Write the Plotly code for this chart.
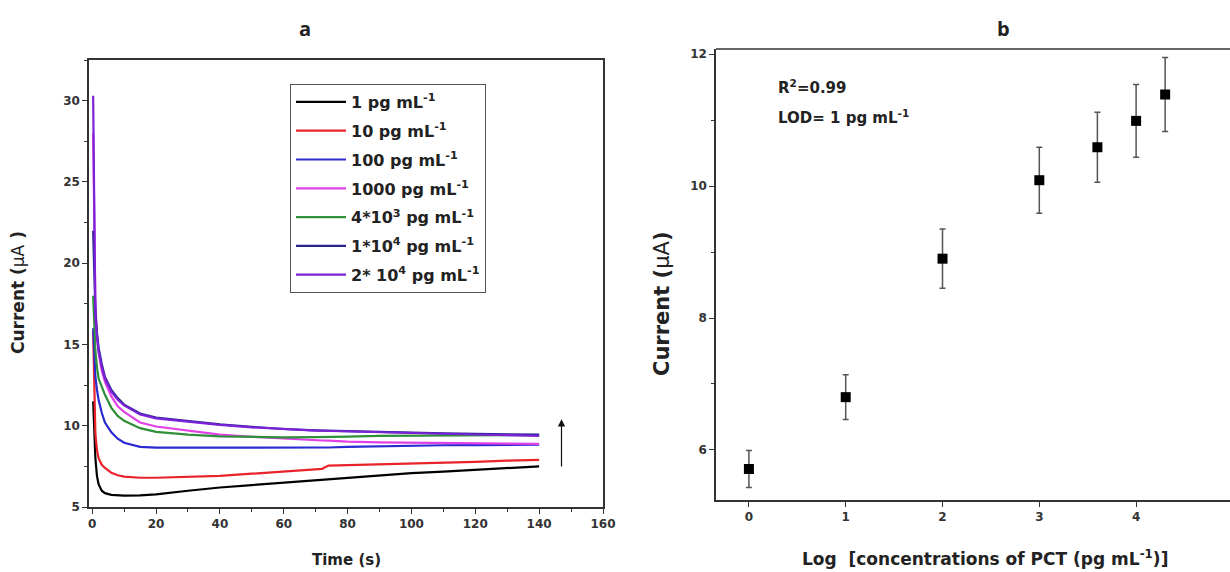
import plotly.graph_objects as go

# ---------- Panel a data ----------
time_s = [0.3, 0.6, 1, 1.5, 2, 3, 4, 6, 8, 10, 15, 20, 30, 40, 50, 60, 70, 72, 74,
          80, 90, 100, 110, 120, 130, 140]
i_1pg = [11.5, 9.5, 8.0, 6.9, 6.4, 6.0, 5.85, 5.75, 5.72, 5.7, 5.72, 5.78, 6.0, 6.2, 6.35,
         6.5, 6.65, 6.68, 6.7, 6.8, 6.97, 7.08, 7.18, 7.3, 7.4, 7.5]
i_10pg = [15.8, 12.0, 9.5, 8.5, 8.0, 7.6, 7.4, 7.1, 6.95, 6.87, 6.8, 6.8, 6.85, 6.92, 7.05,
          7.2, 7.32, 7.35, 7.55, 7.58, 7.6, 7.65, 7.72, 7.78, 7.85, 7.9]
i_100pg = [16.0, 14.5, 13.0, 12.2, 11.6, 10.8, 10.2, 9.6, 9.2, 8.95, 8.7, 8.65, 8.65, 8.63,
           8.62, 8.62, 8.63, 8.64, 8.66, 8.7, 8.74, 8.78, 8.8, 8.81, 8.82, 8.83]
i_1000pg = [28.0, 22.0, 17.5, 15.6, 14.5, 13.4, 12.7, 11.8, 11.2, 10.85, 10.2, 9.95, 9.7,
            9.45, 9.32, 9.2, 9.1, 9.09, 9.08, 9.02, 8.98, 8.95, 8.93, 8.9, 8.9, 8.88]
i_4e3pg = [18.0, 16.0, 14.6, 13.6, 12.9, 12.4, 11.9, 11.1, 10.6, 10.3, 9.85, 9.62, 9.45,
           9.35, 9.3, 9.28, 9.3, 9.3, 9.31, 9.33, 9.38, 9.4, 9.4, 9.42, 9.42, 9.42]
i_1e4pg = [22.0, 20.0, 17.0, 15.7, 14.8, 13.8, 13.0, 12.2, 11.7, 11.3, 10.75, 10.5, 10.28,
           10.08, 9.93, 9.8, 9.72, 9.71, 9.7, 9.65, 9.6, 9.56, 9.53, 9.5, 9.47, 9.45]
i_2e4pg = [30.3, 24.0, 16.7, 15.5, 14.6, 13.6, 12.9, 12.1, 11.6, 11.25, 10.7, 10.45, 10.25,
           10.05, 9.9, 9.78, 9.7, 9.69, 9.68, 9.62, 9.58, 9.53, 9.5, 9.46, 9.42, 9.38]

series_names = ["1 pg mL<sup>-1</sup>", "10 pg mL<sup>-1</sup>", "100 pg mL<sup>-1</sup>",
                "1000 pg mL<sup>-1</sup>", "4*10<sup>3</sup> pg mL<sup>-1</sup>",
                "1*10<sup>4</sup> pg mL<sup>-1</sup>", "2* 10<sup>4</sup> pg mL<sup>-1</sup>"]
series_vals = [i_1pg, i_10pg, i_100pg, i_1000pg, i_4e3pg, i_1e4pg, i_2e4pg]
series_colors = ["#000000", "#e8232a", "#2a2ad2", "#e040e6", "#2f8f3a", "#26268f", "#7b22d8"]

arrow_t = 147
arrow_from = 7.4
arrow_to = 10.4

# ---------- Panel b data ----------
log_conc = [0, 1, 2, 3, 3.6, 4, 4.3]
current_b = [5.71, 6.80, 8.90, 10.09, 10.59, 10.99, 11.39]
error_b = [0.28, 0.34, 0.45, 0.50, 0.53, 0.55, 0.56]

W, H = 1230, 572
def px(x):
    return x / W
def py(y):
    return (H - y) / H

FONT = "DejaVu Sans"

fig = go.Figure()

for name, vals, col in zip(series_names, series_vals, series_colors):
    fig.add_trace(go.Scatter(x=time_s, y=vals, mode="lines", name=name,
                             line=dict(color=col, width=2.2), legendgroup=name,
                             xaxis="x", yaxis="y"))

fig.add_trace(go.Scatter(x=log_conc, y=current_b, mode="markers", showlegend=False,
                         marker=dict(symbol="square", size=10, color="black"),
                         error_y=dict(type="data", array=error_b, color="#555555",
                                      thickness=1.5, width=3),
                         xaxis="x2", yaxis="y2"))

tickfont = dict(family=FONT, size=12, color="#333333", weight="bold")
axis_common = dict(showline=True, linecolor="#333333", linewidth=1.5, ticks="outside",
                   ticklen=5, tickwidth=1.2, tickcolor="#333333", showgrid=False,
                   zeroline=False, tickfont=tickfont, automargin=False)

fig.update_layout(
    width=W, height=H, margin=dict(l=0, r=0, t=0, b=0, pad=0), autosize=False,
    plot_bgcolor="white", paper_bgcolor="white",
    font=dict(family=FONT, color="#222222"),
    xaxis=dict(domain=[px(89), px(603)], range=[-1, 160], dtick=20, tick0=0,
               mirror=True, minor=dict(dtick=10, ticklen=3, ticks="outside", tickcolor="#333333"),
               anchor="y", **axis_common),
    yaxis=dict(domain=[py(507), py(60)], range=[5, 32.5], dtick=5, tick0=5,
               mirror=True, minor=dict(dtick=2.5, ticklen=3, ticks="outside", tickcolor="#333333"),
               anchor="x", **axis_common),
    xaxis2=dict(domain=[px(716), 1.0], range=[-0.34, 4.97], dtick=1, tick0=0,
                anchor="y2", **axis_common),
    yaxis2=dict(domain=[py(500), py(49)], range=[5.24, 12.08], dtick=2, tick0=4,
                minor=dict(dtick=1, ticklen=3, ticks="outside", tickcolor="#333333"),
                anchor="x2", **axis_common),
    legend=dict(x=px(290), y=py(84), xanchor="left", yanchor="top",
                bordercolor="#555555", borderwidth=1, bgcolor="white",
                font=dict(family=FONT, size=16, color="#222222", weight="bold"),
                tracegroupgap=5, traceorder="grouped", itemwidth=50),
    showlegend=True,
)

# top border line of panel b (right side is cut off in the reference)
fig.add_shape(type="line", xref="paper", yref="paper", x0=px(716), x1=1.0,
              y0=py(49), y1=py(49), line=dict(color="#333333", width=1.5))

def ann(x, y, text, size, angle=0, xa="center", family=FONT):
    fig.add_annotation(x=px(x), y=py(y), xref="paper", yref="paper", showarrow=False,
                       xanchor=xa, yanchor="middle", text=text, textangle=angle,
                       font=dict(family=family, size=size, color="#222222"))

fig.add_annotation(x=arrow_t, y=arrow_to, ax=arrow_t, ay=arrow_from, xref="x", yref="y",
                   axref="x", ayref="y", showarrow=True, arrowhead=2, arrowsize=1.2,
                   arrowwidth=1.2, arrowcolor="#111111", text="")
ann(305, 28, "<b>a</b>", 20, family="Open Sans")
ann(1003, 28, "<b>b</b>", 20, family="Open Sans")
ann(346, 560, "<b>Time (s)</b>", 15)
ann(18, 293, "<b>Current (</b>μA<b> )</b>", 17, angle=-90)
ann(662, 304, "<b>Current (</b>μA<b>)</b>", 21, angle=-90)
ann(985, 558, "<b>Log  [concentrations of PCT (pg mL<sup>-1</sup>)]</b>", 17)
ann(776, 87, "<b>R<sup>2</sup>=0.99</b>", 15, xa="left")
ann(776, 117, "<b>LOD= 1 pg mL<sup>-1</sup></b>", 15, xa="left")

fig.write_html("out.html")
